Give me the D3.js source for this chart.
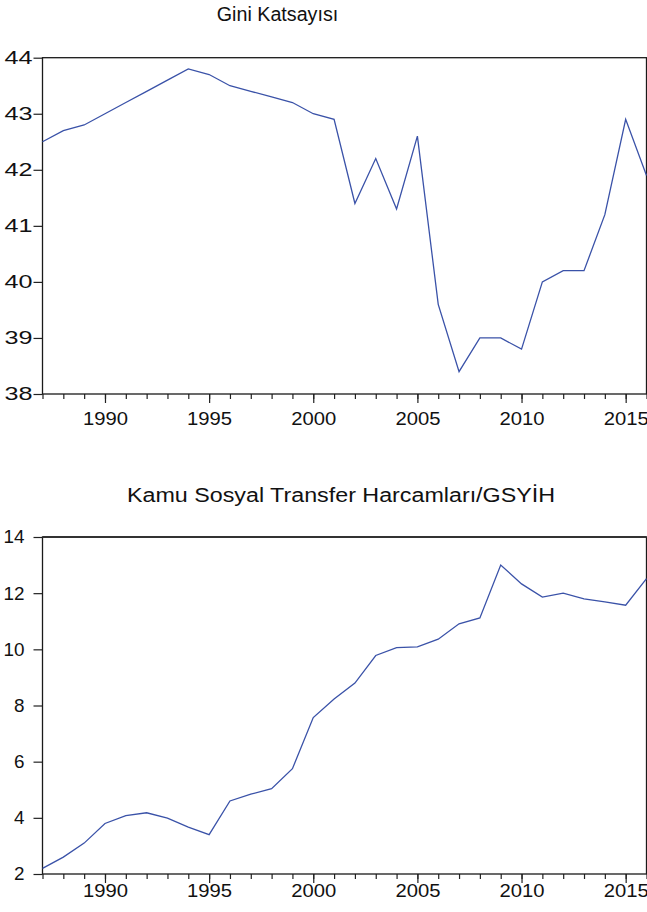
<!DOCTYPE html>
<html>
<head>
<meta charset="utf-8">
<script src="https://cdn.jsdelivr.net/npm/d3@7"></script>
<style>
  body { margin: 0; background: #fff; }
  svg text { font-family: "Liberation Sans", Arial, sans-serif; fill: #111; }
</style>
</head>
<body>
<svg id="chart" width="647" height="912"></svg>
<script>
// yillar
var years = d3.range(1987, 2017);

// Gini katsayisi
var gini = [42.5, 42.7, 42.8, 43.0, 43.2, 43.4, 43.6, 43.8, 43.7, 43.5,
            43.4, 43.3, 43.2, 43.0, 42.9, 41.4, 42.2, 41.3, 42.6, 39.6,
            38.4, 39.0, 39.0, 38.8, 40.0, 40.2, 40.2, 41.2, 42.9, 41.9];

// kamu sosyal transfer harcamalari / GSYIH
var transfer = [2.2, 2.6, 3.1, 3.8, 4.08, 4.18, 3.99, 3.67, 3.4, 4.6,
                4.84, 5.04, 5.75, 7.57, 8.23, 8.8, 9.78, 10.06, 10.09, 10.36,
                10.91, 11.12, 13.0, 12.33, 11.86, 12.0, 11.8, 11.69, 11.57, 12.52];

var giniTicks = [38, 39, 40, 41, 42, 43, 44];
var transferTicks = [2, 4, 6, 8, 10, 12, 14];
var yearTicks = [1990, 1995, 2000, 2005, 2010, 2015];

var svg = d3.select("#chart");

var x = d3.scaleLinear().domain([1987, 2016]).range([42.5, 646.5]);

// the original is stretched sideways a bit, so widths are forced per glyph
function stretch(sel, perChar) {
    sel.attr("textLength", function() { return this.textContent.length * perChar; })
       .attr("lengthAdjust", "spacingAndGlyphs");
}

function drawPanel(p) {
    var y = d3.scaleLinear().domain([p.ticks[0], p.ticks[p.ticks.length - 1]]).range([p.bottom, p.top]);
    var g = svg.append("g");

    g.append("text")
        .attr("x", p.titleX).attr("y", p.titleY)
        .attr("text-anchor", "middle")
        .attr("font-size", "19.5px")
        .attr("textLength", p.titleW).attr("lengthAdjust", "spacingAndGlyphs")
        .text(p.title);

    // y axis
    var yAxis = d3.axisLeft(y).tickValues(p.ticks).tickSize(9).tickPadding(p.yPad).tickFormat(d3.format("d"));
    var ya = g.append("g").attr("transform", "translate(" + x(1987) + ",0)").call(yAxis);
    ya.select(".domain").remove();
    ya.selectAll("text").attr("font-size", "18.5px").attr("font-family", null).attr("fill", null)
        .call(stretch, p.yChar);
    ya.selectAll("line").attr("stroke", "#222").attr("stroke-width", 1.2);

    // x axis: minor ticks every year, major every 5
    var xMinor = d3.axisBottom(x).tickValues(years).tickSize(5).tickFormat("");
    var xm = g.append("g").attr("transform", "translate(0," + p.bottom + ")").call(xMinor);
    xm.select(".domain").remove();
    xm.selectAll("line").attr("stroke", "#222").attr("stroke-width", 1.2);

    var xAxis = d3.axisBottom(x).tickValues(yearTicks).tickSize(9).tickPadding(p.xPad).tickFormat(d3.format("d"));
    var xa = g.append("g").attr("transform", "translate(0," + p.bottom + ")").call(xAxis);
    xa.select(".domain").remove();
    xa.selectAll("text").attr("font-size", "18.5px").attr("font-family", null).attr("fill", null)
        .call(stretch, 11.25);
    xa.selectAll("line").attr("stroke", "#222").attr("stroke-width", 1.2);

    // frame
    g.append("rect")
        .attr("x", x(1987)).attr("y", p.top)
        .attr("width", x(2016) - x(1987)).attr("height", p.bottom - p.top)
        .attr("fill", "none").attr("stroke", "#1a1a1a").attr("stroke-width", 1.3);
    if (p.heavyTop) {
        g.append("line")
            .attr("x1", x(1987)).attr("x2", x(2016))
            .attr("y1", p.top).attr("y2", p.top)
            .attr("stroke", "#333").attr("stroke-width", 2);
    }

    var line = d3.line()
        .x(function(d, i) { return x(years[i]); })
        .y(function(d) { return y(d); });

    g.append("path")
        .datum(p.values)
        .attr("d", line)
        .attr("fill", "none")
        .attr("stroke", "#3a52a8")
        .attr("stroke-width", 1.3);
}

drawPanel({
    title: "Gini Katsayısı", titleX: 277.5, titleY: 21, titleW: 121.5,
    values: gini, ticks: giniTicks, top: 57.7, bottom: 394,
    yPad: 1, yChar: 14, xPad: 9, heavyTop: false
});
drawPanel({
    title: "Kamu Sosyal Transfer Harcamları/GSYİH", titleX: 341, titleY: 502, titleW: 428,
    values: transfer, ticks: transferTicks, top: 537, bottom: 874,
    yPad: 9, yChar: 10.5, xPad: 0.5, heavyTop: true
});
</script>
</body>
</html>
